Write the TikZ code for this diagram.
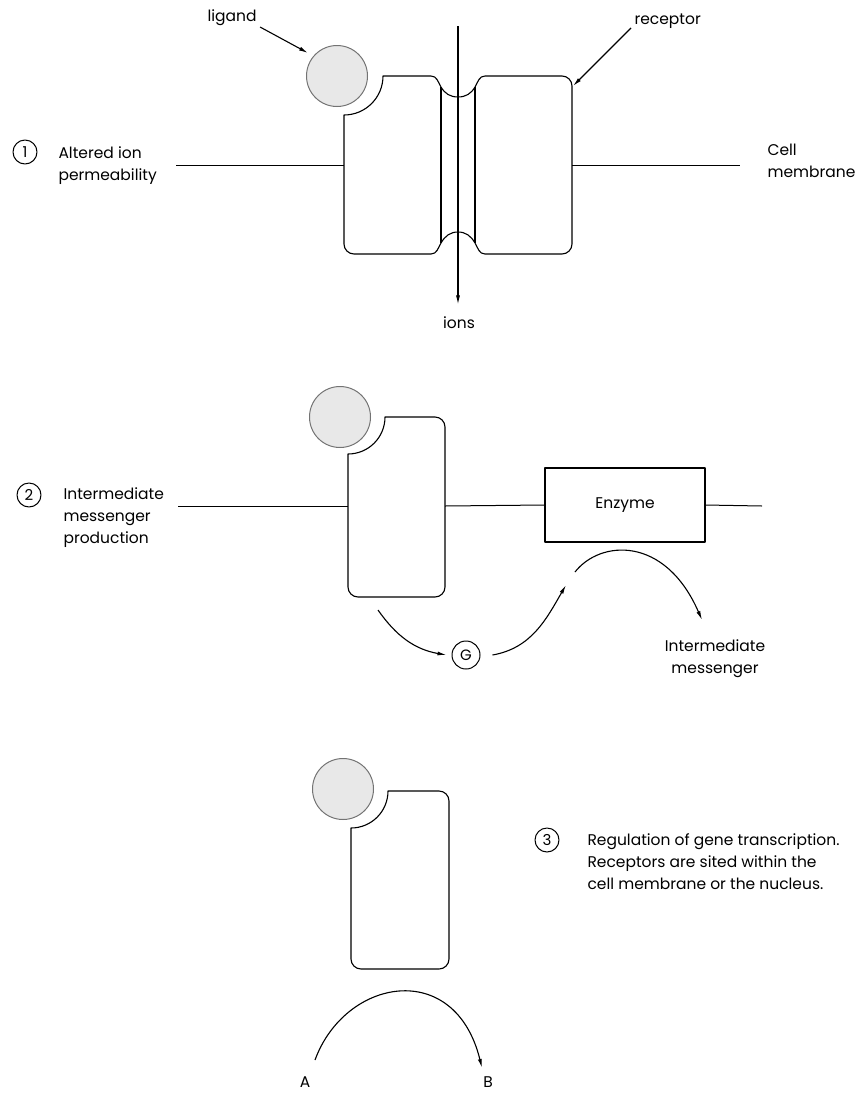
\documentclass[tikz,border=0pt]{standalone}
\usepackage{fontspec}
\setmainfont{Poppins}
\usetikzlibrary{arrows.meta}

% Receptor block with a concave ligand pocket at its top-left corner.
% Arguments: left x, right x, top y, bottom y (y measured downwards), pocket radius.
\newcommand\rcpblock[5]{%
  \draw (#1+#5,-#3) -- (#2-10,-#3)
    arc[start angle=90,end angle=0,radius=10] -- (#2,-#4+10)
    arc[start angle=0,end angle=-90,radius=10] -- (#1+10,-#4)
    arc[start angle=-90,end angle=-180,radius=10] -- (#1,-#3-#5)
    arc[start angle=-90,end angle=0,radius=#5] -- cycle;}

\begin{document}
\begin{tikzpicture}[x=1pt,y=1pt,
  line width=1.1pt, line join=round,
  lbl/.style={inner sep=0pt, font=\fontsize{15.5}{22}\selectfont},
  lbll/.style={lbl, align=left},
  num/.style={circle, draw, line width=1pt, minimum size=24pt, inner sep=0pt,
    font=\fontsize{15}{15}\selectfont},
  lig/.style={circle, draw=black!55, fill=black!9, line width=1pt,
    minimum size=61pt, inner sep=0pt},
  arr/.style={-{Latex[length=9pt,width=4pt]}},
  membrane/.style={draw, line width=1pt},
]
\useasboundingbox (0,0) rectangle (864,-1093);

% ---------- 1: ion channel ----------
\node[lig] (lig1) at (337,-76) {};
\draw (383,-76) -- (431,-76)
  to[out=0,in=120] (441,-87) to[out=-60,in=180] (458,-97)
  to[out=0,in=240] (475,-87) to[out=60,in=180] (485,-76)
  -- (562,-76) arc[start angle=90,end angle=0,radius=10]
  -- (572,-244) arc[start angle=0,end angle=-90,radius=10]
  -- (485,-254)
  to[out=180,in=-60] (475,-243) to[out=120,in=0] (458,-232)
  to[out=180,in=60] (441,-243) to[out=-120,in=0] (431,-254)
  -- (354,-254) arc[start angle=-90,end angle=-180,radius=10]
  -- (344,-115) arc[start angle=-90,end angle=0,radius=39] -- cycle;
\draw (441,-87) -- (441,-243);
\draw (475,-87) -- (475,-243);

\draw[membrane] (176,-165) -- (344,-165);
\draw[membrane] (572,-165) -- (740,-165);

\coordinate (iontop) at (458,-26);
\node[lbl] (ions) at (459,-323) {ions};
\draw[arr, shorten >=12pt] (iontop) -- (iontop |- ions.north);

\node[lbl] (ligand) at (232,-18) {ligand};
\coordinate (ligtip) at (308,-53);
\draw[arr] ([shift={(3pt,-9pt)}]ligand.east) -- (ligtip);

\node[lbl, anchor=west] (receptor) at (634,-21) {receptor};
\coordinate (rectip) at (573,-86);
\draw[arr] ([shift={(-3pt,-7pt)}]receptor.west) -- (rectip);

\node[num] (n1) at (25,-152) {1};
\node[lbll, anchor=west] (altered) at (58,-166) {Altered ion\\permeability};
\node[lbll, anchor=west] (cellmem) at (767,-161) {Cell\\membrane};

% ---------- 2: second messenger ----------
\node[lig] (lig2) at (340,-417) {};
\rcpblock{348}{445}{417}{597}{37}
\node[draw, line width=1.1pt, minimum width=160pt, minimum height=74pt,
  inner sep=0pt, font=\fontsize{15.5}{15.5}\selectfont] (enzyme) at (625,-505) {Enzyme};
\draw[membrane] (178,-506) -- (348,-506);
\draw[membrane] (445,-506) -- (enzyme.west);
\draw[membrane] (enzyme.east) -- (762,-506);

\node[circle, draw, line width=1pt, minimum size=28pt, inner sep=0pt,
  font=\fontsize{15}{15}\selectfont] (G) at (466,-655) {G};
\coordinate (gstart) at (378,-610);
\draw[arr] (gstart) to[out=-55,in=170] ([xshift=-5pt]G.west);
\coordinate (etip) at (566,-585);
\draw[arr] ([xshift=12pt]G.east) to[out=10,in=-120] (etip);

\node[lbl, align=center] (im) at (715,-659) {Intermediate\\messenger};
\coordinate (arcstart) at (575,-572);
\coordinate (imtip) at (702,-620);
\draw[arr] (arcstart) .. controls (600,-540) and (665,-535) .. (imtip);

\node[num] (n2) at (29,-495) {2};
\node[lbll, anchor=west] (imp) at (63,-518) {Intermediate\\messenger\\production};

% ---------- 3: gene transcription ----------
\node[lig] (lig3) at (343,-789) {};
\rcpblock{351}{449}{791}{969}{37}

\node[num] (n3) at (547,-840) {3};
\node[lbll, anchor=west] (reg) at (587,-862)
  {Regulation of gene transcription.\\Receptors are sited within the\\cell membrane or the nucleus.};

\node[lbl] (A) at (305,-1082) {A};
\node[lbl] (B) at (488,-1082) {B};
\coordinate (astart) at (315,-1060);
\coordinate (btip) at (482,-1068);
\draw[arr] (astart) .. controls (345,-978) and (455,-958) .. (btip);
\end{tikzpicture}
\end{document}
